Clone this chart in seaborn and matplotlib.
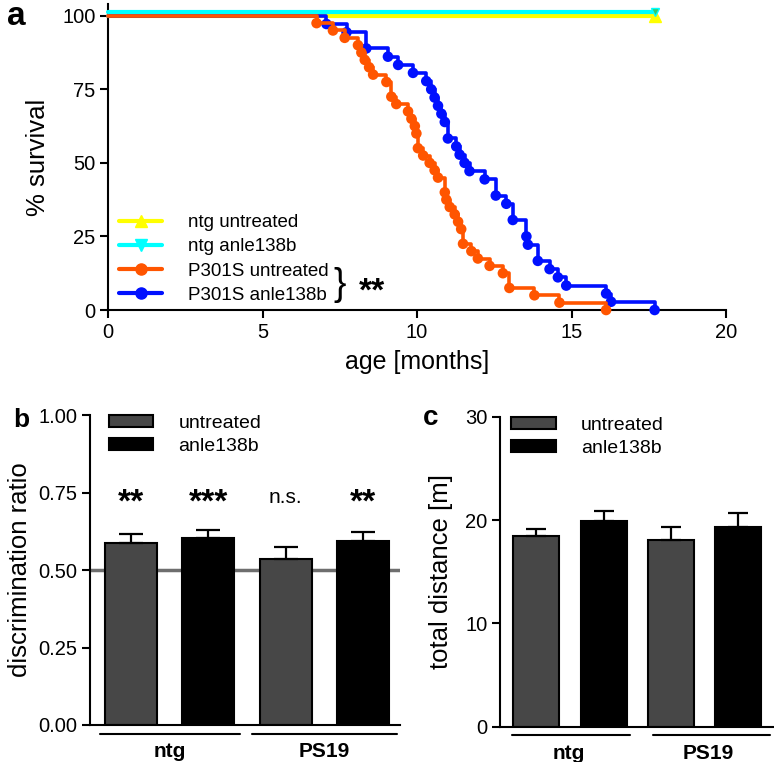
import matplotlib
matplotlib.use("Agg")
import matplotlib.pyplot as plt
import matplotlib.transforms as mtransforms
from matplotlib.lines import Line2D
from matplotlib.patches import Patch
import seaborn as sns
import pandas as pd

# ---------------- data ----------------
# panel a: Kaplan-Meier survival (age in months, % survival)
p301s_untreated_t = [0, 6.75, 7.28, 7.66, 8.09, 8.2, 8.31, 8.45, 8.58, 9.01,
                     9.17, 9.33, 9.71, 9.82, 9.93, 9.98, 10.03, 10.2, 10.41, 10.57,
                     10.68, 10.9, 10.95, 11.06, 11.22, 11.33, 11.43, 11.49, 11.76, 11.97,
                     12.35, 12.78, 12.99, 13.8, 14.61, 16.12]
p301s_untreated_s = [100, 97.5, 95, 92.5, 90, 87.5, 85, 82.5, 80, 77.5,
                     72.5, 70, 67.5, 65, 62.5, 60, 55, 52.5, 50, 47.5,
                     45, 40, 37.5, 35, 32.5, 30, 27.5, 22.5, 20, 17.5,
                     15, 12.5, 7.5, 5, 2.5, 0]
p301s_anle_t = [0, 7.07, 7.72, 8.36, 9.06, 9.39, 9.87, 10.3, 10.46, 10.57,
                10.68, 10.79, 10.9, 11.0, 11.27, 11.38, 11.54, 11.7, 12.19, 12.55,
                12.89, 13.1, 13.54, 13.59, 13.91, 14.29, 14.56, 14.83, 16.12, 16.28,
                17.69]
p301s_anle_s = [100, 97.2, 94.4, 88.9, 86.1, 83.3, 80.6, 77.8, 75, 72.2,
                69.4, 66.7, 63.9, 58.3, 55.6, 52.8, 50, 47.2, 44.4, 38.9,
                36.1, 30.6, 25, 22.2, 16.7, 13.9, 11.1, 8.3, 5.6, 2.8,
                0]
ntg_untreated_t = [0, 17.69]
ntg_untreated_s = [100, 100]
ntg_anle_t = [0, 17.69]
ntg_anle_s = [100, 100]
survival_labels = ["ntg untreated", "ntg anle138b", "P301S untreated", "P301S anle138b"]

# panels b, c
bar_conditions = ["ntg untreated", "ntg anle138b", "PS19 untreated", "PS19 anle138b"]
bar_treatment = ["untreated", "anle138b", "untreated", "anle138b"]
groups = ["ntg", "PS19"]
disc_mean = [0.586, 0.604, 0.534, 0.595]
disc_sem = [0.029, 0.026, 0.040, 0.027]
disc_sig = ["**", "***", "n.s.", "**"]
dist_mean = [18.45, 19.9, 18.05, 19.35]
dist_sem = [0.7, 1.0, 1.25, 1.3]

# ---------------- style ----------------
sns.set_theme(style="ticks")
plt.rcParams["font.family"] = ["Liberation Sans", "DejaVu Sans"]
plt.rcParams["axes.linewidth"] = 1.5
plt.rcParams["axes.edgecolor"] = "black"
plt.rcParams["text.color"] = "black"
plt.rcParams["axes.labelcolor"] = "black"
plt.rcParams["xtick.color"] = "black"
plt.rcParams["ytick.color"] = "black"

W, H = 774, 762
fig = plt.figure(figsize=(W / 100, H / 100), dpi=100)


def ax_px(l, t, r, b):
    return fig.add_axes([l / W, 1 - b / H, (r - l) / W, (b - t) / H])


def style_axis(ax):
    sns.despine(ax=ax)
    ax.spines["left"].set_linewidth(1.5)
    ax.spines["bottom"].set_linewidth(1.5)
    ax.tick_params(axis="both", which="major", direction="out", length=6, width=1.5,
                   labelsize=14.5, colors="black", labelcolor="black", pad=3)


YELLOW = "#ffff00"
CYAN = "#00ffff"
ORANGE = "#ff5500"
BLUE = "#0010ff"

# ---------------- panel a ----------------
axA = ax_px(108, 4, 726, 310)
style_axis(axA)
axA.set_xlim(0, 20)
axA.set_ylim(0, 104)
axA.set_xticks([0, 5, 10, 15, 20])
axA.set_yticks([0, 25, 50, 75, 100])

sns.lineplot(x=ntg_untreated_t, y=ntg_untreated_s, ax=axA, color=YELLOW, lw=3,
             estimator=None, sort=False, zorder=3)
cyan_tr = mtransforms.offset_copy(axA.transData, fig=fig, x=0, y=2.4, units="points")
axA.plot(ntg_anle_t, ntg_anle_s, color=CYAN, lw=3, transform=cyan_tr, zorder=4,
         clip_on=False)
axA.plot(ntg_untreated_t[-1:], ntg_untreated_s[-1:], marker="^", color=YELLOW,
         ms=8, zorder=4, clip_on=False, ls="none")
axA.plot(ntg_anle_t[-1:], ntg_anle_s[-1:], marker="v", color="#33cc66", mec=CYAN,
         ms=6, zorder=5, clip_on=False, ls="none", transform=cyan_tr)

for t, s, c, z in [(p301s_anle_t, p301s_anle_s, BLUE, 5),
                   (p301s_untreated_t, p301s_untreated_s, ORANGE, 6)]:
    sns.lineplot(x=t, y=s, ax=axA, color=c, lw=2.6, drawstyle="steps-post",
                 estimator=None, sort=False, zorder=z)
    sns.scatterplot(x=t[1:], y=s[1:], ax=axA, color=c, s=58, edgecolor="none",
                    zorder=z, clip_on=False)
for ln in axA.lines:
    ln.set_clip_on(False)

axA.set_xlabel("age [months]", fontsize=18, labelpad=6)
axA.set_ylabel("% survival", fontsize=18.5)
axA.yaxis.set_label_coords(-0.094, 0.5)

handles = [Line2D([], [], color=YELLOW, lw=3, marker="^", ms=8),
           Line2D([], [], color=CYAN, lw=3, marker="v", ms=8),
           Line2D([], [], color=ORANGE, lw=3, marker="o", ms=8),
           Line2D([], [], color=BLUE, lw=3, marker="o", ms=8)]
axA.legend(handles, survival_labels, loc="lower left", bbox_to_anchor=(0.018, 0.02),
           frameon=False, fontsize=13.5, handlelength=2.3, handletextpad=1.4,
           labelspacing=0.38, borderpad=0, borderaxespad=0)
axA.text(7.5, 8.6, "}", fontsize=27, ha="center", va="center", color="black")
axA.text(8.55, 6.2, "**", fontsize=24, fontweight="bold", ha="center", va="center")

fig.text(7 / W, 1 - 25 / H, "a", fontsize=24, fontweight="bold", va="baseline")


# ---------------- bar panels ----------------
def bar_panel(ax, means, sems, ylim, yticks, fmt, ylabel, label_x, xlim, width,
              cap, line_spans, text_pos, leg_x):
    style_axis(ax)
    df = pd.DataFrame({"cond": bar_conditions, "val": means, "treat": bar_treatment})
    sns.barplot(data=df, x="cond", y="val", hue="treat", dodge=False, width=width,
                palette={"untreated": "#474747", "anle138b": "#000000"},
                edgecolor="black", linewidth=1.5, ax=ax, legend=False, zorder=2)
    ax.errorbar(x=list(range(len(means))), y=means, yerr=[[0] * len(sems), sems],
                fmt="none", ecolor="black", elinewidth=1.6, capsize=cap, capthick=1.6,
                zorder=3)
    ax.set_xlim(*xlim)
    ax.set_ylim(*ylim)
    ax.set_yticks(yticks)
    ax.set_yticklabels([fmt.format(v) for v in yticks])
    ax.set_xticks([])
    ax.set_xlabel("")
    ax.set_ylabel(ylabel, fontsize=18.5)
    ax.yaxis.set_label_coords(label_x, 0.5)
    tr = mtransforms.blended_transform_factory(ax.transData, ax.transAxes)
    for (x0, x1), (tx, gname) in zip(line_spans, zip(text_pos, groups)):
        ax.plot([x0, x1], [-0.028, -0.028], color="black", lw=1.5, transform=tr,
                clip_on=False)
        ax.text(tx, -0.085, gname, transform=tr, ha="center", va="center",
                fontsize=15, fontweight="bold")
    legend_handles = [Patch(facecolor="#474747", edgecolor="black", lw=1.5),
                      Patch(facecolor="#000000", edgecolor="black", lw=1.5)]
    ax.legend(legend_handles, ["untreated", "anle138b"], loc="upper left",
              bbox_to_anchor=(leg_x, 1.0),
              frameon=False, fontsize=14, handlelength=2.3, handleheight=0.55,
              handletextpad=1.3, labelspacing=0.3, borderpad=0, borderaxespad=0)


axB = ax_px(90, 415, 400, 725)
bar_panel(axB, disc_mean, disc_sem, (0, 1), [0, 0.25, 0.5, 0.75, 1.0], "{:.2f}",
          "discrimination ratio", -0.187, (-0.53, 3.475), 0.67, 8.5,
          [(-0.40, 1.41), (1.56, 3.43)], [0.5, 2.5], 0.06)
axB.axhline(0.5, color="#6e6e6e", lw=2.5, zorder=1)
for i, s in enumerate(disc_sig):
    if s == "n.s.":
        axB.text(i, 0.735, s, ha="center", va="center", fontsize=15)
    else:
        axB.text(i, 0.715, s, ha="center", va="center", fontsize=24, fontweight="bold")
fig.text(13 / W, 1 - 427 / H, "b", fontsize=19, fontweight="bold", va="baseline")

axC = ax_px(500, 416.7, 774, 726.7)
bar_panel(axC, dist_mean, dist_sem, (0, 30), [0, 10, 20, 30], "{:.0f}",
          "total distance [m]", -0.17, (-0.54, 3.53), 0.68, 7.5,
          [(-0.366, 1.39), (1.73, 3.47)], [0.48, 2.56], 0.04)
fig.text(423 / W, 1 - 425 / H, "c", fontsize=20, fontweight="bold", va="baseline")

fig.savefig("out.png", dpi=100)
